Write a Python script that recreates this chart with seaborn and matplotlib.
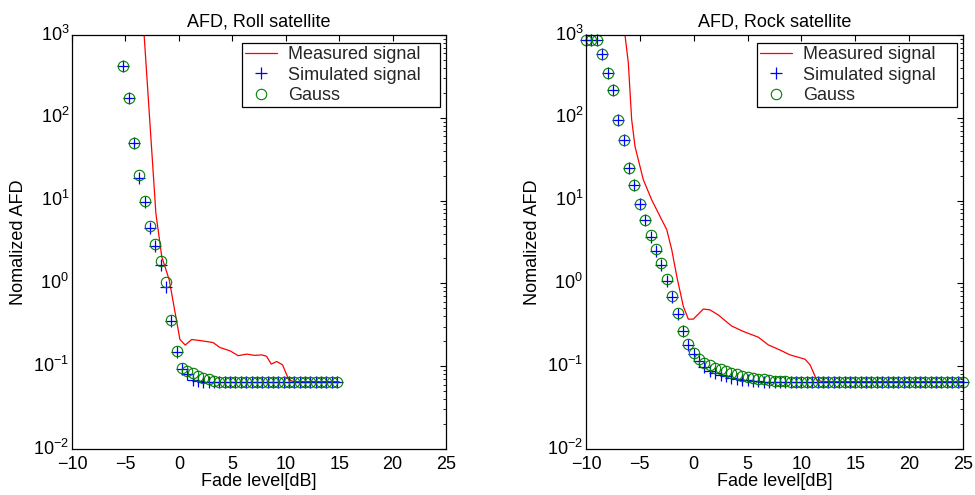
import matplotlib
matplotlib.use("Agg")
import matplotlib.pyplot as plt
from matplotlib.ticker import LogLocator, MultipleLocator, NullFormatter
from matplotlib.transforms import ScaledTranslation
import seaborn as sns

# ---------------- data ----------------
left_x = [-5.2, -4.7, -4.2, -3.7, -3.2, -2.7, -2.2, -1.7, -1.2, -0.7, -0.2, 0.3, 0.8,
          1.3, 1.8, 2.3, 2.8, 3.3, 3.8, 4.3, 4.8, 5.3, 5.8, 6.3, 6.8, 7.3, 7.8, 8.3,
          8.8, 9.3, 9.8, 10.3, 10.8, 11.3, 11.8, 12.3, 12.8, 13.3, 13.8, 14.3, 14.8]
left_gauss = [427, 172, 49, 20.5, 9.8, 5.0, 3.0, 1.87, 1.03, 0.36, 0.153, 0.096, 0.0885,
              0.082, 0.077, 0.0728, 0.0696, 0.0664, 0.065, 0.065, 0.065, 0.065, 0.065,
              0.065, 0.065, 0.065, 0.065, 0.065, 0.065, 0.065, 0.065, 0.065, 0.065,
              0.065, 0.065, 0.065, 0.065, 0.065, 0.065, 0.065, 0.065]
left_sim = [427, 172, 49, 19.0, 9.5, 4.7, 2.8, 1.65, 0.9, 0.35, 0.15, 0.092, 0.080,
            0.068, 0.066, 0.065, 0.065, 0.065, 0.065, 0.065, 0.065, 0.065, 0.065,
            0.065, 0.065, 0.065, 0.065, 0.065, 0.065, 0.065, 0.065, 0.065, 0.065,
            0.065, 0.065, 0.065, 0.065, 0.065, 0.065, 0.065, 0.065]
left_meas_x = [-3.4, -3.25, -2.15, -1.6, -0.9, 0.1, 0.6, 1.2, 2.0, 3.2, 3.85, 4.8, 5.55,
               6.35, 7.1, 7.75, 8.2, 8.65, 9.15, 9.7, 10.3, 10.8, 15.0]
left_meas_y = [1600, 1000, 7.0, 2.1, 1.1, 0.21, 0.18, 0.21, 0.204, 0.193, 0.168, 0.153,
               0.134, 0.14, 0.135, 0.137, 0.132, 0.106, 0.114, 0.104, 0.068, 0.065, 0.065]

right_x = [-10, -9.5, -9, -8.5, -8, -7.5, -7, -6.5, -6, -5.5, -5, -4.5, -4, -3.5, -3,
           -2.5, -2, -1.5, -1, -0.5, 0, 0.5, 1, 1.5, 2, 2.5, 3, 3.5, 4, 4.5, 5, 5.5,
           6, 6.5, 7, 7.5, 8, 8.5, 9, 9.5, 10, 10.5, 11, 11.5, 12, 12.5, 13, 13.5, 14,
           14.5, 15, 15.5, 16, 16.5, 17, 17.5, 18, 18.5, 19, 19.5, 20, 20.5, 21, 21.5,
           22, 22.5, 23, 23.5, 24, 24.5, 25]
right_gauss = [870, 870, 870, 593, 349, 219, 95, 53.5, 25, 15.3, 9.0, 5.8, 3.8, 2.6, 1.76,
               1.13, 0.71, 0.437, 0.267, 0.184, 0.1435, 0.121, 0.109, 0.102, 0.096, 0.092,
               0.0885, 0.0837, 0.0807, 0.077, 0.0736, 0.0716, 0.0702, 0.0696, 0.0683,
               0.067, 0.0665, 0.066, 0.065, 0.065, 0.065, 0.065, 0.065, 0.065, 0.065,
               0.065, 0.065, 0.065, 0.065, 0.065, 0.065, 0.065, 0.065, 0.065, 0.065,
               0.065, 0.065, 0.065, 0.065, 0.065, 0.065, 0.065, 0.065, 0.065, 0.065,
               0.065, 0.065, 0.065, 0.065, 0.065, 0.065]
right_sim = [870, 870, 870, 593, 349, 219, 95, 53.5, 25, 15.3, 9.0, 5.8, 3.6, 2.45, 1.65,
             1.08, 0.69, 0.43, 0.265, 0.18, 0.14, 0.114, 0.098, 0.088, 0.083, 0.079,
             0.076, 0.073, 0.071, 0.069, 0.068, 0.067, 0.066, 0.065, 0.065, 0.065, 0.065,
             0.065, 0.065, 0.065, 0.065, 0.065, 0.065, 0.065, 0.065, 0.065, 0.065, 0.065,
             0.065, 0.065, 0.065, 0.065, 0.065, 0.065, 0.065, 0.065, 0.065, 0.065, 0.065,
             0.065, 0.065, 0.065, 0.065, 0.065, 0.065, 0.065, 0.065, 0.065, 0.065, 0.065,
             0.065]
right_meas_x = [-6.45, -6.38, -6.07, -5.76, -5.45, -4.68, -3.9, -2.98, -2.5, -2.04, -1.57,
                -0.96, -0.5, -0.04, 0.89, 1.5, 2.28, 3.5, 4.6, 6.0, 6.92, 8.0, 8.94, 10.33,
                10.8, 11.42, 12.0, 25.0]
right_meas_y = [1500, 1000, 460, 95, 45, 17.9, 10.2, 5.9, 4.45, 2.55, 1.21, 0.525, 0.37,
                0.37, 0.49, 0.48, 0.416, 0.307, 0.263, 0.224, 0.181, 0.157, 0.137, 0.1215,
                0.104, 0.068, 0.065, 0.065]

titles = ["AFD, Roll satellite", "AFD, Rock satellite"]
x_label = "Fade level[dB]"
y_label = "Nomalized AFD"
legend_labels = ["Measured signal", "Simulated signal", "Gauss"]

# ---------------- style ----------------
sns.set_theme(style="white")
plt.rcParams["font.family"] = ["Liberation Sans", "DejaVu Sans"]
plt.rcParams["mathtext.fontset"] = "custom"
plt.rcParams["mathtext.rm"] = "Liberation Sans"
plt.rcParams["mathtext.it"] = "Liberation Sans:italic"
plt.rcParams["mathtext.bf"] = "Liberation Sans:bold"

FS = 13
fig = plt.figure(figsize=(9.75, 4.95), dpi=100)
fig.patch.set_facecolor("white")

positions = [[72 / 975, 46 / 495, 374 / 975, 414 / 495],
             [586 / 975, 46 / 495, 377 / 975, 414 / 495]]
legend_boxes = [(0.4545, 0.5, 0.5294, 0.4795), (0.4536, 0.5, 0.5305, 0.4795)]
panels = [(left_meas_x, left_meas_y, left_x, left_sim, left_gauss),
          (right_meas_x, right_meas_y, right_x, right_sim, right_gauss)]

axes = []
for pos, lbox, title, (mx, my, px, ps, pg) in zip(positions, legend_boxes, titles, panels):
    ax = fig.add_axes(pos)
    axes.append(ax)
    ax.set_facecolor("white")
    ax.set_yscale("log")
    sns.lineplot(x=mx, y=my, ax=ax, color=(1, 0, 0), linewidth=0.9,
                 estimator=None, sort=False, label=legend_labels[0])
    sns.lineplot(x=px, y=ps, ax=ax, color=(0, 0, 1), linestyle="none", marker="+",
                 markersize=8, markeredgewidth=0.9, markeredgecolor=(0, 0, 1),
                 estimator=None, sort=False, label=legend_labels[1], clip_on=False)
    sns.lineplot(x=px, y=pg, ax=ax, color=(0, 0.5, 0), linestyle="none", marker="o",
                 markersize=7.5, markeredgewidth=0.8, markeredgecolor=(0, 0.5, 0),
                 markerfacecolor="none", estimator=None, sort=False,
                 label=legend_labels[2], clip_on=False)
    ax.set_xlim(-10, 25)
    ax.set_ylim(1e-2, 1e3)
    ax.xaxis.set_major_locator(MultipleLocator(5))
    ax.yaxis.set_major_locator(LogLocator(base=10, numticks=10))
    ax.yaxis.set_minor_locator(LogLocator(base=10, subs=range(2, 10), numticks=20))
    ax.yaxis.set_minor_formatter(NullFormatter())
    ax.tick_params(which="both", direction="in", top=True, right=True,
                   color="black", labelsize=FS, labelcolor="black")
    ax.tick_params(which="major", length=4, width=0.8)
    ax.tick_params(which="minor", length=2, width=0.6)
    ax.tick_params(axis="x", pad=5)
    ax.tick_params(axis="y", pad=2)
    for sp in ax.spines.values():
        sp.set_visible(True)
        sp.set_color("black")
        sp.set_linewidth(0.9)
    ax.set_title(title, fontsize=FS, pad=6, color="black")
    ax.set_xlabel(x_label, fontsize=FS, labelpad=0, color="black")
    ax.set_ylabel(y_label, fontsize=FS, color="black")
    ax.yaxis.set_label_coords(-0.12, 0.5)
    leg = ax.legend(loc="upper left", bbox_to_anchor=lbox, mode="expand",
                    fontsize=FS, frameon=True, fancybox=False,
                    framealpha=1, edgecolor="black", borderaxespad=0,
                    labelspacing=0.2, handlelength=1.8, handletextpad=0.6,
                    borderpad=0.15)
    leg.get_frame().set_linewidth(0.9)

# lift the 10^n labels a little so that the "10" sits on its tick
fig.canvas.draw()
lift = ScaledTranslation(0, 1.8 / 72, fig.dpi_scale_trans)
for ax in axes:
    for tick in ax.yaxis.get_major_ticks():
        tick.label1.set_transform(tick.label1.get_transform() + lift)

fig.savefig("out.png", dpi=100, facecolor="white")
